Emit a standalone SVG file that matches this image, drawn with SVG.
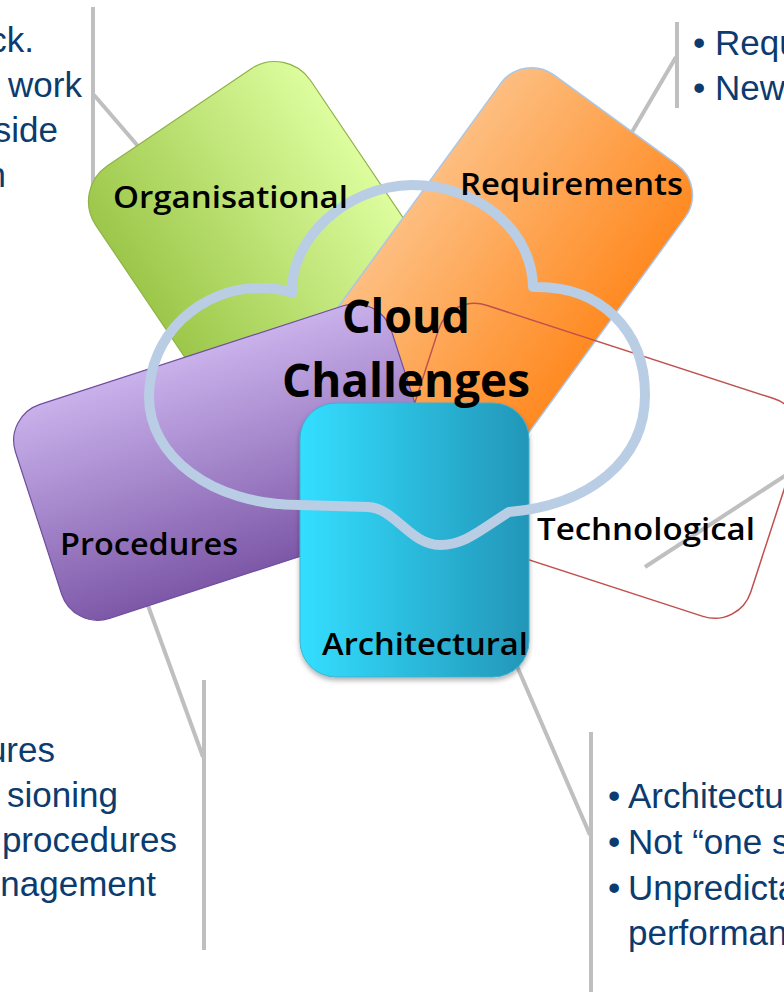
<svg xmlns="http://www.w3.org/2000/svg" width="784" height="992" viewBox="0 0 784 992">
<defs>
  <linearGradient id="gGreen" x1="0" y1="0" x2="1" y2="0">
    <stop offset="0" stop-color="#9CC74A"/><stop offset="1" stop-color="#DDFD9E"/>
  </linearGradient>
  <linearGradient id="gOrange" x1="0" y1="0" x2="1" y2="0">
    <stop offset="0" stop-color="#FDBE80"/><stop offset="1" stop-color="#FF8A22"/>
  </linearGradient>
  <linearGradient id="gPurple" x1="0" y1="0" x2="0" y2="1">
    <stop offset="0" stop-color="#C9B1EB"/><stop offset="1" stop-color="#7D58A8"/>
  </linearGradient>
  <linearGradient id="gCyan" x1="0" y1="0" x2="1" y2="0">
    <stop offset="0" stop-color="#33DEFF"/><stop offset="1" stop-color="#2396B8"/>
  </linearGradient>
  <filter id="shadow" x="-10%" y="-10%" width="120%" height="125%">
    <feDropShadow dx="0" dy="3" stdDeviation="2.5" flood-color="#000" flood-opacity="0.3"/>
  </filter>
</defs>
<style>
  .conn{stroke:#BFBFBF;stroke-width:4;fill:none}
  .lbl{font-family:"Open Sans","Noto Sans",sans-serif;font-weight:600;font-size:31px;fill:#000}
  .big{font-family:"Open Sans","Noto Sans",sans-serif;font-weight:700;font-size:46px;fill:#000}
  .bul{font-family:"Liberation Sans",Arial,sans-serif;font-size:35px;fill:#0B3B6F}
</style>
<rect width="784" height="992" fill="#fff"/>

<g id="connectors">
  <path class="conn" d="M93,7 V200 M94,95 L150,160"/>
  <path class="conn" d="M677,22 V108 M676,57 L625,144"/>
  <path class="conn" d="M146,600 L203,757 M204,680 V950"/>
  <path class="conn" d="M510,650 L590,835 M591,732 V992"/>
  <path class="conn" d="M645,567 L800,466"/>
</g>

<g id="organisational">
  <rect x="0" y="0" width="259" height="380" rx="43" fill="url(#gGreen)" stroke="#8FB247" stroke-width="1.2" transform="translate(71.8,189.7) rotate(-34)"/>
</g>
<g id="requirements">
  <rect x="0" y="0" width="228" height="400" rx="38" fill="url(#gOrange)" stroke="#A9C7E8" stroke-width="1.5" transform="translate(523.1,52.6) rotate(36)"/>
</g>
<g id="technological">
  <rect x="0" y="0" width="378" height="229" rx="38" fill="none" stroke="#C0504D" stroke-width="1.5" transform="translate(450.3,293.5) rotate(18)"/>
</g>
<g id="procedures">
  <rect x="0" y="0" width="395" height="225" rx="38" fill="url(#gPurple)" stroke="#6F4E9E" stroke-width="1.2" transform="translate(3.8,416.1) rotate(-18)"/>
</g>
<g id="architectural">
  <rect x="300" y="403" width="229" height="274" rx="36" fill="url(#gCyan)" stroke="#3FB0CF" stroke-width="1" filter="url(#shadow)"/>
</g>

<g id="cloud">
  <path d="M292,293 C290,240 345,186 412,185 C478,185 532,230 533,287 C600,285 645,330 645,395 C645,460 590,505 509,512 C480,530 465,545 440,545 C410,545 395,508 368,507 L300,505 C210,505 149,455 149,397 C149,335 200,288 260,288 C275,288 285,290 292,293 Z" fill="none" stroke="#B9CDE4" stroke-width="10" stroke-linejoin="round"/>
  <text class="big" x="342" y="333" textLength="128" lengthAdjust="spacingAndGlyphs">Cloud</text>
  <text class="big" x="282" y="397" textLength="248" lengthAdjust="spacingAndGlyphs">Challenges</text>
</g>

<g id="labels">
  <text class="lbl" x="113" y="208" textLength="235" lengthAdjust="spacingAndGlyphs">Organisational</text>
  <text class="lbl" x="460" y="195" textLength="223" lengthAdjust="spacingAndGlyphs">Requirements</text>
  <text class="lbl" x="60" y="555" textLength="178" lengthAdjust="spacingAndGlyphs">Procedures</text>
  <text class="lbl" x="537" y="540" textLength="218" lengthAdjust="spacingAndGlyphs">Technological</text>
  <text class="lbl" x="322" y="655" textLength="206" lengthAdjust="spacingAndGlyphs">Architectural</text>
</g>

<g id="text-organisational" class="bul" text-anchor="end">
  <text x="34" y="52">ck.</text>
  <text x="82" y="97">work</text>
  <text x="58" y="142">side</text>
  <text x="6" y="187">n</text>
</g>
<g id="text-requirements" class="bul">
  <text y="55"><tspan x="693">•</tspan><tspan x="715">Requ</tspan></text>
  <text y="100"><tspan x="693">•</tspan><tspan x="715">New</tspan></text>
</g>
<g id="text-procedures" class="bul" text-anchor="end">
  <text x="55" y="762">ures</text>
  <text x="118" y="807">sioning</text>
  <text x="177" y="852">procedures</text>
  <text x="156" y="896">nagement</text>
</g>
<g id="text-architectural" class="bul">
  <text y="808"><tspan x="608">•</tspan><tspan x="628">Architectu</tspan></text>
  <text y="854"><tspan x="608">•</tspan><tspan x="628">Not “one s</tspan></text>
  <text y="900"><tspan x="608">•</tspan><tspan x="628">Unpredicta</tspan></text>
  <text y="945"><tspan x="628">performan</tspan></text>
</g>
</svg>
